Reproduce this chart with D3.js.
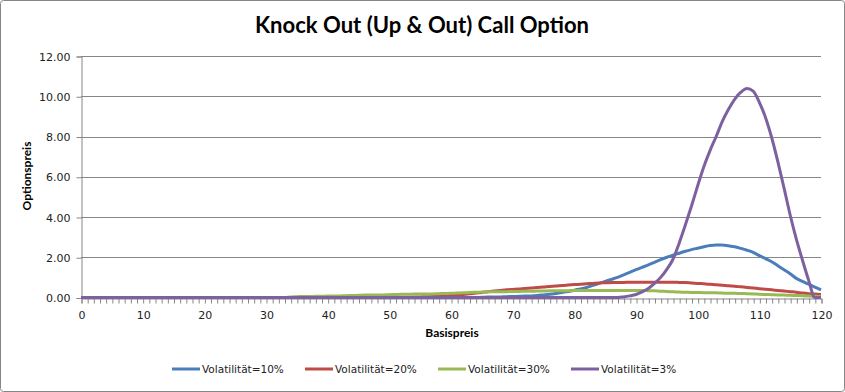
<!DOCTYPE html>
<html><head><meta charset="utf-8">
<script src="https://cdn.jsdelivr.net/npm/d3@7"></script>
<style>body{margin:0;background:#fff}</style>
</head><body>
<svg id="c" width="845" height="392"></svg>
<script>
const title = "Knock Out (Up & Out) Call Option";
const xTitle = "Basispreis";
const yTitle = "Optionspreis";
const seriesNames = ["Volatilität=10%", "Volatilität=20%", "Volatilität=30%", "Volatilität=3%"];
const seriesColors = ["#4A7EBB", "#BE4B48", "#98B954", "#7D60A0"];
const yTicks = [0, 2, 4, 6, 8, 10, 12];
const xTicks = [0, 10, 20, 30, 40, 50, 60, 70, 80, 90, 100, 110, 120];
// Basispreis 0..120 step 1
const strikes = d3.range(0, 121);
const zeros = n => Array(n).fill(0);
const vol10 = zeros(65).concat([
  0.01,0.02,0.02,0.03,0.04,0.05,0.06,0.07,0.08,0.10,
  0.13,0.16,0.20,0.25,0.30,0.36,0.43,0.50,0.60,0.70,
  0.80,0.90,1.00,1.12,1.25,1.38,1.50,1.62,1.75,1.88,
  2.00,2.10,2.20,2.30,2.38,2.45,2.52,2.58,2.61,2.61,
  2.57,2.52,2.44,2.35,2.24,2.08,1.93,1.78,1.58,1.38,
  1.18,0.95,0.80,0.66,0.52,0.38]);
const vol20 = zeros(52).concat([
  0.01,0.01,0.02,0.03,0.04,0.05,0.07,0.08,0.10,0.12,
  0.15,0.18,0.22,0.25,0.29,0.32,0.35,0.38,0.40,0.42,
  0.45,0.47,0.50,0.52,0.55,0.57,0.60,0.62,0.64,0.66,
  0.68,0.70,0.72,0.73,0.74,0.75,0.75,0.76,0.76,0.76,
  0.76,0.76,0.76,0.76,0.76,0.75,0.74,0.72,0.70,0.68,
  0.66,0.63,0.61,0.58,0.56,0.53,0.50,0.47,0.44,0.41,
  0.38,0.35,0.32,0.29,0.26,0.22,0.19,0.17,0.15]);
const vol30 = zeros(34).concat([
  0.03,0.04,0.05,0.05,0.06,0.06,0.07,0.07,0.08,0.09,
  0.10,0.11,0.12,0.12,0.13,0.13,0.14,0.15,0.16,0.16,
  0.17,0.17,0.18,0.18,0.19,0.20,0.21,0.22,0.23,0.25,
  0.26,0.27,0.28,0.28,0.29,0.29,0.30,0.30,0.31,0.31,
  0.32,0.32,0.33,0.33,0.34,0.34,0.35,0.35,0.35,0.35,
  0.35,0.35,0.35,0.35,0.35,0.35,0.35,0.35,0.34,0.33,
  0.31,0.30,0.28,0.27,0.26,0.25,0.25,0.24,0.24,0.23,
  0.22,0.21,0.21,0.20,0.19,0.18,0.16,0.15,0.14,0.13,
  0.12,0.11,0.10,0.09,0.07,0.06,0.05]);
const vol3 = zeros(88).concat([
  0.03,0.08,0.15,0.28,0.45,0.70,1.00,1.40,1.90,2.70,
  3.60,4.55,5.55,6.50,7.30,8.00,8.75,9.35,9.85,10.20,
  10.38,10.25,9.70,8.95,7.95,6.75,5.45,4.10,2.90,1.85,
  0.85,0.00,0.00]);
const seriesValues = [vol10, vol20, vol30, vol3];

const svg = d3.select("#c");
const FONT = "'DejaVu Sans', Verdana, sans-serif";
const BOLD = "'Liberation Sans Narrow', 'Open Sans', sans-serif";

svg.append("rect").attr("x",0.5).attr("y",0.5).attr("width",844).attr("height",391)
  .attr("rx",3).attr("fill","#fff").attr("stroke","#868686");

const x = d3.scaleLinear().domain([0,120]).range([81,821]);
const y = d3.scaleLinear().domain([0,12]).range([297.5,56]);

// gridlines
svg.append("g").selectAll("line").data(yTicks.slice(1)).join("line")
  .attr("x1",x(0)).attr("x2",x(120))
  .attr("y1",d=>Math.round(y(d))+0.5).attr("y2",d=>Math.round(y(d))+0.5)
  .attr("stroke","#868686").attr("stroke-width",1);

// y axis
const yAxis = svg.append("g").attr("transform",`translate(${Math.round(x(0))+0.5},0.5)`)
  .call(d3.axisLeft(y).tickValues(yTicks).tickFormat(d3.format(".2f")).tickSizeOuter(0).tickSize(5).tickPadding(6));
yAxis.select(".domain").attr("stroke","#868686");
yAxis.selectAll(".tick line").attr("stroke","#868686");
yAxis.selectAll("text").attr("font-family",FONT).attr("font-size","11px").attr("fill","#222");

// x axis
const xAxis = svg.append("g").attr("transform",`translate(0.5,${Math.round(y(0))+0.5})`)
  .call(d3.axisBottom(x).tickValues(strikes).tickFormat(d => d % 10 === 0 ? d : "").tickSizeOuter(0).tickSize(5).tickPadding(8));
xAxis.select(".domain").attr("stroke","#868686");
xAxis.selectAll(".tick line").attr("stroke","#868686");
xAxis.selectAll("text").attr("font-family",FONT).attr("font-size","11px").attr("fill","#222");

// lines
const line = d3.line().x((d,i)=>x(strikes[i])).y(d=>y(d)).curve(d3.curveMonotoneX);
seriesValues.forEach((vals,k)=>{
  svg.append("path").datum(vals).attr("d",line).attr("fill","none")
    .attr("stroke",seriesColors[k]).attr("stroke-width",3).attr("stroke-linejoin","round");
});

// title
svg.append("text").attr("x",422).attr("y",33).attr("text-anchor","middle")
  .attr("font-family","Lato, 'Open Sans', sans-serif").attr("font-weight","bold").attr("font-size","22px")
  .attr("fill","#000").attr("textLength",334).attr("lengthAdjust","spacingAndGlyphs").text(title);

// axis titles
svg.append("text").attr("x",452).attr("y",337).attr("text-anchor","middle")
  .attr("font-family","Lato, sans-serif").attr("font-weight","bold").attr("font-size","12px").text(xTitle);
svg.append("text").attr("transform","translate(31,176) rotate(-90)").attr("text-anchor","middle")
  .attr("font-family","Lato, sans-serif").attr("font-weight","bold").attr("font-size","12px").text(yTitle);

// legend
const legX = [172, 305, 438, 571];
const leg = svg.append("g");
seriesNames.forEach((n,k)=>{
  const g = leg.append("g").attr("transform",`translate(${legX[k]},369)`);
  g.append("line").attr("x1",0).attr("x2",28).attr("y1",0).attr("y2",0)
    .attr("stroke",seriesColors[k]).attr("stroke-width",3);
  g.append("text").attr("x",30).attr("y",4).attr("font-family",FONT).attr("font-size","10.5px")
    .attr("fill","#222").text(n);
});
</script>
</body></html>
